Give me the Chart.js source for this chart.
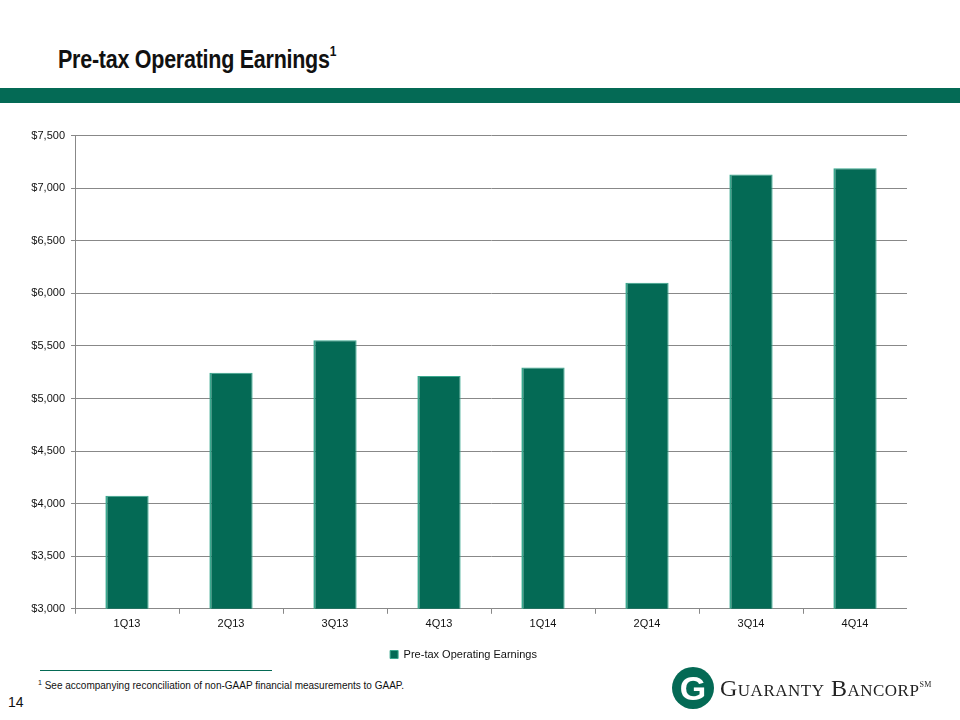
<!DOCTYPE html>
<html>
<head>
<meta charset="utf-8">
<script src="https://cdn.jsdelivr.net/npm/chart.js@4"></script>
<style>
  body { margin: 0; width: 960px; height: 720px; background: #fff; position: relative; overflow: hidden; font-family: "Liberation Sans", Arial, sans-serif; }
  #title { position: absolute; left: 58px; top: 45px; font-family: "Liberation Sans Narrow", "Arial Narrow", "Liberation Sans", sans-serif; font-weight: bold; font-size: 25px; color: #111; letter-spacing: -0.3px; transform: scaleX(0.86); transform-origin: left top; white-space: nowrap; }
  #title sup { font-size: 14px; position: relative; top: -3px; }
  #band { position: absolute; left: 0; top: 88px; width: 960px; height: 15px; background: #046a55; }
  #wrap { position: absolute; left: 20px; top: 123px; width: 887px; height: 547px; }
  #rule { position: absolute; left: 40px; top: 670px; width: 232px; height: 1px; background: #046a55; }
  #note { position: absolute; left: 38px; top: 679px; font-size: 10px; color: #111; font-family: "Liberation Sans Narrow", "Liberation Sans", sans-serif; }
  #note sup { font-size: 7px; }
  #page { position: absolute; left: 8px; top: 694px; font-size: 14px; color: #111; font-family: "Liberation Sans Narrow", "Liberation Sans", sans-serif; }
  #logo { position: absolute; left: 672px; top: 664px; height: 48px; display: flex; align-items: center; }
  #logo .g { width: 42px; height: 42px; border-radius: 50%; background: #046a55; color: #fff; font: bold 34px "Liberation Sans", sans-serif; display: flex; align-items: center; justify-content: center; margin-right: 6px; }
  #logo .t { font-family: "Liberation Serif", "DejaVu Serif", serif; font-variant: small-caps; font-size: 24px; color: #222; letter-spacing: 0.5px; }
  #logo .t sup { font-size: 8px; font-variant: normal; }
</style>
</head>
<body>
<div id="title">Pre-tax Operating Earnings<sup>1</sup></div>
<div id="band"></div>
<div id="wrap"><canvas id="chart"></canvas></div>
<div id="rule"></div>
<div id="note"><sup>1</sup> See accompanying reconciliation of non-GAAP financial measurements to GAAP.</div>
<div id="page">14</div>
<div id="logo"><div class="g">G</div><div class="t">Guaranty Bancorp<sup>SM</sup></div></div>
<script>
// quarters and pre-tax operating earnings ($ thousands)
const quarters = ['1Q13', '2Q13', '3Q13', '4Q13', '1Q14', '2Q14', '3Q14', '4Q14'];
const earnings = [4075, 5245, 5555, 5215, 5295, 6100, 7130, 7190];
const seriesName = 'Pre-tax Operating Earnings';
const yTicks = [3000, 3500, 4000, 4500, 5000, 5500, 6000, 6500, 7000, 7500];

const tickFont = { family: '"Liberation Sans", Arial, sans-serif', size: 11 };

new Chart(document.getElementById('chart'), {
  type: 'bar',
  data: {
    labels: quarters,
    datasets: [{
      label: seriesName,
      data: earnings,
      backgroundColor: '#046a55',
      borderColor: '#3aa88e',
      borderWidth: { left: 2, top: 1, right: 1, bottom: 0 },
      borderSkipped: false,
      categoryPercentage: 0.8,
      barPercentage: 0.52
    }]
  },
  options: {
    responsive: true,
    maintainAspectRatio: false,
    animation: false,
    layout: { padding: { top: 3, right: 0, bottom: 0, left: 0 } },
    plugins: {
      legend: {
        position: 'bottom',
        labels: { boxWidth: 8, boxHeight: 8, color: '#111', font: tickFont, padding: 14 }
      },
      tooltip: { enabled: false }
    },
    scales: {
      x: {
        grid: { display: true, drawOnChartArea: false, offset: true, tickLength: 5, color: '#888' },
        border: { color: '#888' },
        ticks: { color: '#111', font: tickFont, padding: 4 }
      },
      y: {
        min: 3000,
        max: 7500,
        afterFit: s => { s.width = 55; },
        afterBuildTicks: s => { s.ticks = yTicks.map(v => ({ value: v })); },
        grid: { color: '#888', tickLength: 4 },
        border: { color: '#888' },
        ticks: {
          color: '#111',
          font: tickFont,
          padding: 6,
          callback: v => '$' + v.toLocaleString('en-US')
        }
      }
    }
  }
});
</script>
</body>
</html>
